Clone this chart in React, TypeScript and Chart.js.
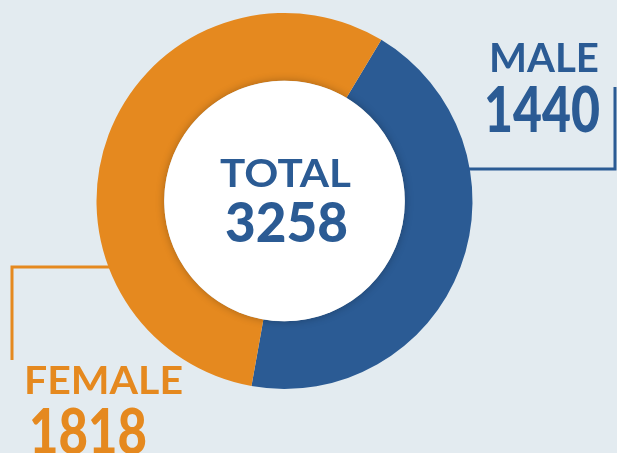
import { useEffect, useRef } from 'react';
import { Chart, registerables } from 'chart.js';

Chart.register(...registerables);

const categories = ['MALE', 'FEMALE'];
const values = [1440, 1818];
const totalLabel = 'TOTAL';
const segmentColors = ['#2B5B94', '#E5891F'];

const BG = '#E3EBF0';
const FONT = 'Lato, "Open Sans", sans-serif';

const overlayPlugin = {
  id: 'overlay',
  afterDraw(chart: any) {
    const ctx: CanvasRenderingContext2D = chart.ctx;
    const arc = chart.getDatasetMeta(0).data[0];
    const { x: cx, y: cy, innerRadius: ir, outerRadius: or } = arc.getProps(
      ['x', 'y', 'innerRadius', 'outerRadius'],
      true
    );
    const total = values.reduce((a, b) => a + b, 0);

    // white center with soft shadow
    ctx.save();
    ctx.shadowColor = 'rgba(0,0,0,0.28)';
    ctx.shadowBlur = 9;
    ctx.beginPath();
    ctx.arc(cx, cy, ir, 0, Math.PI * 2);
    ctx.fillStyle = '#FFFFFF';
    ctx.fill();
    ctx.restore();

    // connector lines
    ctx.save();
    ctx.lineWidth = 3;
    const my = cy - 32;
    const mx = cx + Math.sqrt(or * or - 32 * 32) - 2;
    ctx.strokeStyle = segmentColors[0];
    ctx.beginPath();
    ctx.moveTo(mx, my);
    ctx.lineTo(615, my);
    ctx.lineTo(615, 87);
    ctx.stroke();
    const fy = cy + 66;
    const fx = cx - Math.sqrt(or * or - 66 * 66) + 2;
    ctx.strokeStyle = segmentColors[1];
    ctx.beginPath();
    ctx.moveTo(fx, fy);
    ctx.lineTo(12, fy);
    ctx.lineTo(12, 360);
    ctx.stroke();
    ctx.restore();

    const drawText = (t: string, x: number, y: number, size: number, weight: string, color: string, align: string, targetW?: number) => {
      ctx.save();
      ctx.font = `${weight} ${size}px ${FONT}`;
      ctx.fillStyle = color;
      ctx.textBaseline = 'alphabetic';
      ctx.textAlign = 'left';
      const w = ctx.measureText(t).width;
      const sx = targetW ? targetW / w : 1;
      let left = x;
      if (align === 'center') left = x - (w * sx) / 2;
      ctx.translate(left, y);
      ctx.scale(sx, 1);
      ctx.fillText(t, 0, 0);
      ctx.restore();
    };

    drawText(totalLabel, cx + 1, 187, 39, 'bold', segmentColors[0], 'center', 131);
    drawText(String(total), cx + 2, 242, 56, '900', segmentColors[0], 'center', 123);
    drawText(categories[0], 489, 72, 40, 'bold', segmentColors[0], 'left', 110);
    drawText(String(values[0]), 484, 132, 62, '900', segmentColors[0], 'left', 116);
    drawText(categories[1], 24, 394, 37.5, 'bold', segmentColors[1], 'left', 159);
    drawText(String(values[1]), 29, 454, 62, '900', segmentColors[1], 'left', 118);
  },
};

export default function App() {
  const ref = useRef<HTMLCanvasElement | null>(null);
  useEffect(() => {
    document.body.style.margin = '0';
    const canvas = ref.current!;
    const chart = new Chart(canvas, {
      type: 'doughnut',
      data: {
        labels: categories,
        datasets: [
          {
            data: values,
            backgroundColor: segmentColors,
            borderWidth: 0,
            hoverOffset: 0,
          },
        ],
      },
      options: {
        responsive: false,
        animation: false,
        rotation: 31,
        cutout: '64%',
        layout: { padding: { left: 96.5, right: 144.5, top: 13, bottom: 64 } },
        plugins: {
          legend: { display: false },
          tooltip: { enabled: false },
        },
        events: [],
      },
      plugins: [overlayPlugin],
    });
    return () => chart.destroy();
  }, []);
  return (
    <div style={{ position: 'absolute', left: 0, top: 0, width: 617, height: 453, background: BG, overflow: 'hidden' }}>
      <canvas ref={ref} width={617} height={453} style={{ display: 'block' }} />
    </div>
  );
}
